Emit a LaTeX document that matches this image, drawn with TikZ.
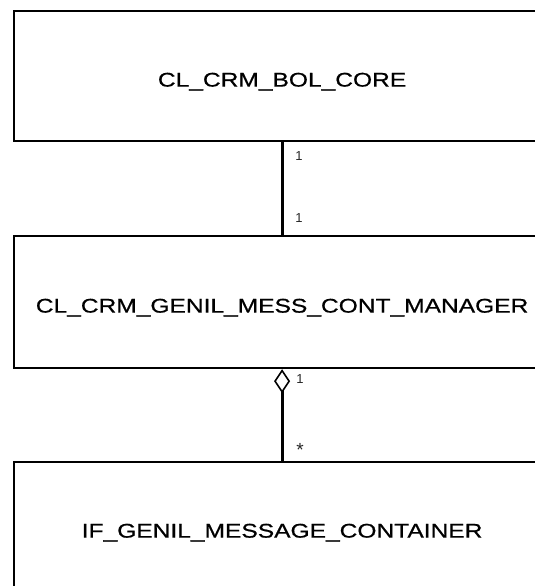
\documentclass[tikz,border=0pt]{standalone}
\usepackage{fontspec}
\usetikzlibrary{arrows.meta}
\newfontfamily\umlfont[FakeStretch=1.24, FakeBold=0.7]{Liberation Sans}
\newfontfamily\multfont{Liberation Sans}
\tikzset{
  classbox/.style={draw=black, line width=2.2pt, anchor=north west,
    minimum width=537pt, minimum height=130pt, inner sep=0pt,
    text height=21pt, text depth=0pt,
    font=\umlfont\fontsize{19.8}{23}\selectfont},
  assoc/.style={line width=3pt, draw=black},
  mult/.style={font=\multfont\fontsize{13}{15}\selectfont, text=black!85, inner sep=0pt},
}
\begin{document}
\begin{tikzpicture}[x=1pt, y=-1pt]
  \useasboundingbox (0,0) rectangle (535,586);
  \clip (0,0) rectangle (535,586);
  % classes
  \node[classbox] (core) at (12.5,10) {CL\_CRM\_BOL\_CORE};
  \node[classbox, minimum height=132pt] (mgr) at (12.5,235) {CL\_CRM\_GENIL\_MESS\_CONT\_MANAGER};
  \node[classbox] (ifc) at (12.5,461) {IF\_GENIL\_MESSAGE\_CONTAINER};
  % plain association
  \draw[assoc] (core.south) -- (mgr.north);
  \node[mult] (m1) at (299,156) {1};
  \node[mult] (m2) at (299,218) {1};
  % aggregation with hollow diamond at the manager
  \draw[assoc, {Diamond[open, length=24pt, width=16pt, line width=1.6pt]}-] (mgr.south) -- (ifc.north);
  \node[mult] (m3) at (300,379) {1};
  \node[mult, font=\multfont\fontsize{19}{21}\selectfont] (m4) at (300,450) {*};
\end{tikzpicture}
\end{document}
